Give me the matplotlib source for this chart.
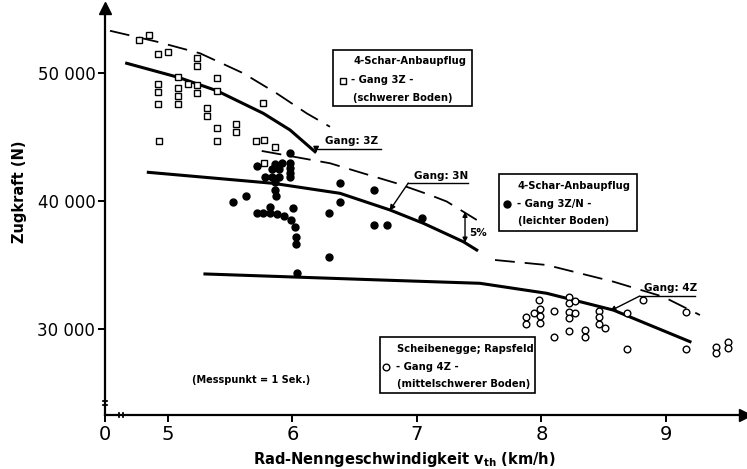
import numpy as np
import matplotlib
matplotlib.use('Agg')
import matplotlib.pyplot as plt

# --- Measured points (v_th in km/h, Zugkraft in N) ---
# 4-Schar-Anbaupflug, Gang 3Z, schwerer Boden (open squares)
sq_x = [4.77, 4.85, 4.917, 5.002, 5.231, 5.231, 5.083, 5.163, 5.231, 5.231,
        5.391, 5.391, 4.922, 4.922, 4.922, 5.083, 5.083, 5.083, 5.316, 5.316,
        5.765, 5.391, 5.391, 5.546, 5.546, 4.93, 5.707, 5.773, 5.859, 5.773]
sq_y = [52580, 52970, 51480, 51620, 51150, 50550, 49660, 49160, 49060, 48460,
        49590, 48620, 49140, 48540, 47580, 48800, 48200, 47580, 47240, 46660,
        47630, 45680, 44710, 46020, 45410, 44710, 44690, 44770, 44240, 42950]

# 4-Schar-Anbaupflug, Gang 3Z/N, leichter Boden (filled dots)
dot_x = [5.98, 5.717, 5.859, 5.913, 5.98, 5.98, 5.98, 5.98, 5.833, 5.894,
         5.779, 5.833, 5.894, 5.859, 5.859, 5.867, 5.525, 5.627, 5.819, 5.712,
         5.765, 5.819, 5.878, 5.932, 6.006, 5.988, 6.02, 6.026, 6.026, 6.034,
         6.293, 6.293, 6.382, 6.382, 6.657, 6.657, 6.757, 7.043]
dot_y = [43770, 42760, 42890, 42950, 42950, 42560, 42210, 41900, 42500, 42500,
         41900, 41900, 41900, 41460, 40860, 40410, 39900, 40410, 39560, 39040,
         39040, 39040, 38980, 38850, 39480, 38520, 37990, 37210, 36640, 34400,
         39040, 35600, 41430, 39950, 40860, 38100, 38100, 38650]

# Scheibenegge, Rapsfeld, Gang 4Z, mittelschwerer Boden (open circles)
circ_x = [7.98, 7.942, 7.988, 7.988, 7.988, 7.873, 7.873, 8.103, 8.103, 8.221,
          8.221, 8.269, 8.221, 8.269, 8.221, 8.223, 8.349, 8.349, 8.464, 8.464,
          8.464, 8.51, 8.813, 8.689, 9.161, 8.689, 9.161, 9.402, 9.402, 9.5, 9.5]
circ_y = [32270, 31270, 31540, 31020, 30450, 30910, 30370, 31410, 29400, 32520,
          32060, 32210, 31350, 31270, 30880, 29870, 29920, 29400, 31410, 30910,
          30370, 30060, 32270, 31270, 31350, 28410, 28440, 28620, 28150, 29010, 28490]

# Curves
c3z_x = [4.668, 5.083, 5.391, 5.765, 5.98, 6.181]
c3z_y = [50760, 49660, 48620, 46850, 45550, 43850]
d3z_x = [4.534, 4.909, 5.257, 5.605, 5.873, 6.114, 6.301]
d3z_y = [53300, 52450, 51540, 49980, 48410, 46850, 45800]
c3n_x = [4.842, 5.846, 6.382, 6.783, 7.051, 7.372, 7.48]
c3n_y = [42240, 41380, 40600, 39300, 38260, 36820, 36170]
d3n_x = [5.753, 6.301, 6.569, 6.837, 7.104, 7.239, 7.48]
d3n_y = [43910, 42950, 42160, 41380, 40470, 39960, 38520]
c4z_x = [5.297, 6.703, 7.506, 8.042, 8.577, 9.193]
c4z_y = [34300, 33830, 33570, 32790, 31480, 29010]
d4z_x = [7.627, 8.042, 8.577, 8.978, 9.273]
d4z_y = [35390, 35000, 33700, 32520, 31090]

x_ticks = [4.494, 5, 6, 7, 8, 9]
x_ticklabels = ['0', '5', '6', '7', '8', '9']
y_ticks = [30000, 40000, 50000]
y_ticklabels = ['30 000', '40 000', '50 000']

plt.rcParams['font.family'] = 'DejaVu Sans'

fig = plt.figure(figsize=(7.47, 4.69), dpi=100)
ax = fig.add_axes([105 / 747, 54 / 469, 640 / 747, 407 / 469])
ax.set_xlim(4.494, 9.635)
ax.set_ylim(23281, 55078)

for s in ['top', 'right']:
    ax.spines[s].set_visible(False)
ax.spines['left'].set_linewidth(1.6)
ax.spines['bottom'].set_linewidth(1.6)

# axis arrows
ax.plot(1, 0, '>k', ms=8, transform=ax.transAxes, clip_on=False)
ax.plot(0, 1, '^k', ms=8, transform=ax.transAxes, clip_on=False)

# axis break marks
for dy in [-2, 2]:
    ax.annotate('', xy=(-5, 12 + dy), xytext=(5, 12 + dy), xycoords='axes pixels',
                textcoords='axes pixels', arrowprops=dict(arrowstyle='-', lw=1.3, color='k'))
for dx in [-2, 2]:
    ax.annotate('', xy=(16 + dx, -5), xytext=(16 + dx, 5), xycoords='axes pixels',
                textcoords='axes pixels', arrowprops=dict(arrowstyle='-', lw=1.3, color='k'))

ax.set_xticks(x_ticks)
ax.set_xticklabels(x_ticklabels, fontsize=14)
ax.set_yticks(y_ticks)
ax.set_yticklabels(y_ticklabels, fontsize=12)
ax.tick_params(direction='out', length=5, width=1.4, pad=2)

# axis titles
fig.text(404 / 747, 1 - 459 / 469, 'Rad-Nenngeschwindigkeit v$_{\\mathbf{th}}$ (km/h)',
         fontsize=10.5, fontweight='bold', ha='center', va='center')
fig.text(20 / 747, 1 - 192 / 469, 'Zugkraft (N)', fontsize=10.5, fontweight='bold',
         rotation=90, ha='center', va='center')

# curves
ax.plot(c3z_x, c3z_y, color='k', lw=2.2)
ax.plot(c3n_x, c3n_y, color='k', lw=2.2)
ax.plot(c4z_x, c4z_y, color='k', lw=2.2)
for xs, ys in [(d3z_x, d3z_y), (d3n_x, d3n_y), (d4z_x, d4z_y)]:
    ax.plot(xs, ys, color='k', lw=1.3, dashes=(11, 5.5))

# points
ax.plot(sq_x, sq_y, 's', ms=5, mfc='white', mec='k', mew=1.0, ls='none')
ax.plot(dot_x, dot_y, 'o', ms=5, color='k', ls='none')
ax.plot(circ_x, circ_y, 'o', ms=4.8, mfc='white', mec='k', mew=1.0, ls='none')

# Gang labels with leader lines
def gang_label(text, tx, ty, ux0, ux1, uy, tipx, tipy):
    ax.text(tx, ty, text, fontsize=7.5, fontweight='bold', ha='left', va='bottom')
    ax.plot([ux0, ux1], [uy, uy], color='k', lw=1.0)
    ax.annotate('', xy=(tipx, tipy), xytext=(ux0, uy),
                arrowprops=dict(arrowstyle='-|>', lw=1.0, color='k',
                                mutation_scale=8, shrinkA=0, shrinkB=0))

gang_label('Gang: 3Z', 6.26, 44300, 6.19, 6.71, 44100, 6.19, 43800)
gang_label('Gang: 3N', 6.98, 41600, 6.93, 7.41, 41400, 6.78, 39250)
gang_label('Gang: 4Z', 8.82, 32780, 8.79, 9.23, 32580, 8.55, 31400)

# 5% arrow
ax.annotate('', xy=(7.386, 36750), xytext=(7.386, 39150),
            arrowprops=dict(arrowstyle='<|-|>', lw=1.0, color='k',
                            mutation_scale=7, shrinkA=0, shrinkB=0))
ax.text(7.42, 37500, '5%', fontsize=7.5, fontweight='bold', ha='left', va='center')

# legend boxes
def legend_box(x0, y0, x1, y1, lines, marker_kw, line_y):
    fig.patches.append(plt.Rectangle((x0 / 747, 1 - y1 / 469), (x1 - x0) / 747,
                                     (y1 - y0) / 469, transform=fig.transFigure,
                                     fill=False, ec='k', lw=1.2))
    for (tx, ty, t) in lines:
        fig.text(tx / 747, 1 - ty / 469, t, fontsize=7.2, fontweight='bold',
                 ha='left', va='center')
    mx, my = line_y
    fig.lines.append(matplotlib.lines.Line2D([mx / 747], [1 - my / 469],
                                             transform=fig.transFigure, **marker_kw))

legend_box(333, 50, 472, 106,
           [(353, 61, '4-Schar-Anbaupflug'), (351, 80, '- Gang 3Z -'),
            (353, 98, '(schwerer Boden)')],
           dict(marker='s', ms=5, mfc='white', mec='k', mew=1.0, ls='none'), (343, 81))
legend_box(499, 174, 637, 231,
           [(518, 186, '4-Schar-Anbaupflug'), (517, 204, '- Gang 3Z/N -'),
            (518, 221, '(leichter Boden)')],
           dict(marker='o', ms=5, color='k', ls='none'), (507, 204))
legend_box(380, 337, 535, 393,
           [(397, 349, 'Scheibenegge; Rapsfeld'), (396, 367, '- Gang 4Z -'),
            (397, 384, '(mittelschwerer Boden)')],
           dict(marker='o', ms=4.8, mfc='white', mec='k', mew=1.0, ls='none'), (386, 367))

fig.text(192 / 747, 1 - 380 / 469, '(Messpunkt = 1 Sek.)', fontsize=7,
         fontweight='bold', ha='left', va='center')

fig.savefig('out.png', dpi=100)
